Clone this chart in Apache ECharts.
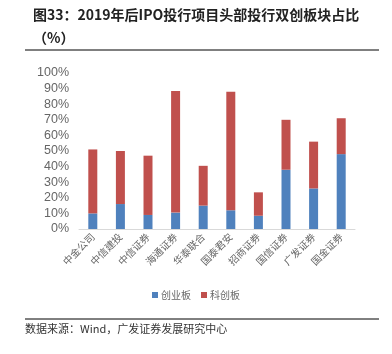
<!DOCTYPE html>
<html>
<head>
<meta charset="utf-8">
<script src="https://cdn.jsdelivr.net/npm/echarts@6/dist/echarts.min.js"></script>
<style>
  html, body { margin: 0; padding: 0; background: #fff; }
  #main { width: 392px; height: 354px; }
</style>
</head>
<body>
<div id="main"></div>
<script>
// 数据
var brokers = ['中金公司', '中信建投', '中信证券', '海通证券', '华泰联合', '国泰君安', '招商证券', '国信证券', '广发证券', '国金证券'];
var chuangye = [10, 16, 9, 10.5, 15, 12, 8.5, 38, 26, 48];
var kechuang = [41, 34, 38, 78, 25.5, 76, 15, 32, 30, 23];

var myChart = echarts.init(document.getElementById('main'));

var option = {
    animation: false,
    title: [{
        text: '图33：2019年后IPO投行项目头部投行双创板块占比\n（%）',
        left: 33,
        top: 3,
        padding: 0,
        textStyle: {
            fontFamily: 'Noto Sans CJK SC',
            fontSize: 14,
            fontWeight: 'bold',
            color: '#222',
            lineHeight: 23
        }
    }, {
        text: '数据来源：Wind，广发证券发展研究中心',
        left: 25,
        top: 323,
        padding: 0,
        textStyle: {
            fontFamily: 'Noto Sans CJK SC',
            fontSize: 11,
            fontWeight: 'normal',
            color: '#333'
        }
    }],
    graphic: [
        { type: 'line', shape: { x1: 25, y1: 50, x2: 379, y2: 50 }, style: { stroke: '#000', lineWidth: 1 } },
        { type: 'line', shape: { x1: 25, y1: 319, x2: 379, y2: 319 }, style: { stroke: '#000', lineWidth: 1 } }
    ],
    legend: {
        bottom: 49,
        left: 'center',
        itemWidth: 6,
        itemHeight: 6,
        itemGap: 10,
        icon: 'rect',
        textStyle: { fontFamily: 'Noto Sans CJK SC', fontSize: 10, color: '#666', padding: [0, 0, 0, -2] },
        data: ['创业板', '科创板']
    },
    grid: { left: 79, right: 37, top: 73, bottom: 125 },
    xAxis: {
        type: 'category',
        data: brokers,
        axisLine: { lineStyle: { color: '#d9d9d9' } },
        axisTick: { show: false },
        axisLabel: {
            rotate: 45,
            interval: 0,
            margin: 6,
            fontFamily: 'Noto Sans CJK SC',
            fontSize: 10,
            color: '#666'
        }
    },
    yAxis: {
        type: 'value',
        min: 0,
        max: 100,
        interval: 10,
        axisLine: { show: false },
        axisTick: { show: false },
        splitLine: { show: false },
        axisLabel: {
            formatter: '{value}%',
            fontFamily: 'Liberation Sans',
            fontSize: 12.5,
            color: '#666',
            margin: 10
        }
    },
    series: [{
        name: '创业板',
        type: 'bar',
        stack: 'total',
        barWidth: 9,
        itemStyle: { color: '#4F81BD' },
        data: chuangye
    }, {
        name: '科创板',
        type: 'bar',
        stack: 'total',
        barWidth: 9,
        itemStyle: { color: '#C0504D' },
        data: kechuang
    }]
};

myChart.setOption(option);
</script>
</body>
</html>
